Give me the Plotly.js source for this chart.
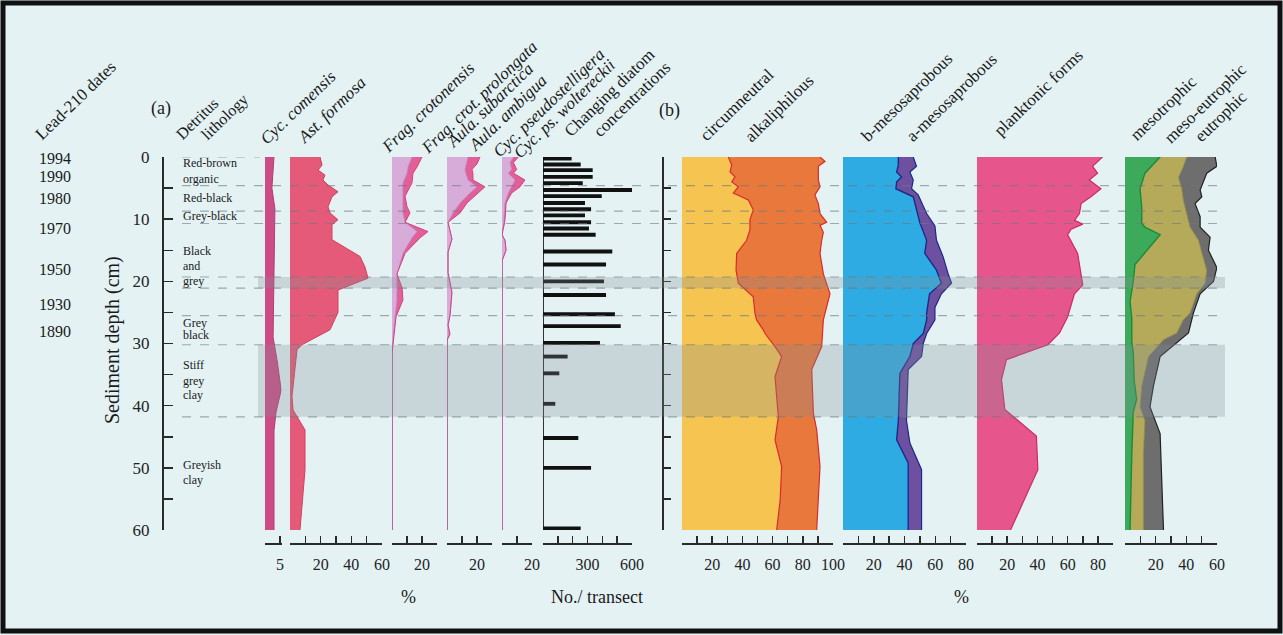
<!DOCTYPE html>
<html><head><meta charset="utf-8">
<script src="https://cdn.plot.ly/plotly-3.0.1.min.js"></script>
<style>html,body{margin:0;padding:0;background:#e4f2f4;}#chart{width:1283px;height:635px;}</style>
</head><body><div id="chart"></div>
<script>
// ---------------- DATA ----------------
const dateLabels = ['1994','1990','1980','1970','1950','1930','1890'];
const dateDepths = [0.3, 3.2, 6.6, 11.5, 18.1, 23.8, 28.1];

const lithoLabels = ['Red-brown<br>organic','Red-black','Grey-black','Black','and','grey','Grey','black','Stiff','grey','clay','Greyish','clay'];
const lithoDepths = [2.2, 6.6, 9.5, 15.1, 17.5, 19.9, 26.7, 28.6, 33.5, 36.0, 38.3, 49.5, 51.9];

const zoneLines = [4.6, 8.7, 10.7, 19.3, 21.1, 25.5, 30.2, 41.8];
const zoneBands = [[19.3, 21.1], [30.2, 41.8]];

const cycComDepth = [0, 5, 8.3, 12, 20, 29, 32.6, 37.5, 41, 44, 50, 60];
const cycComensis = [3, 2.3, 3.3, 3.2, 3.1, 2.7, 4, 5.4, 3.7, 3, 3, 3];

const astDepth = [0, 1.3, 2.1, 2.9, 3.7, 4.5, 5.6, 6.4, 8, 9, 10.1, 10.9, 13.3, 16, 17.7, 19.5, 21.4, 25, 27.8, 30.2, 31, 38.5, 40.7, 43.9, 50.3, 60];
const astFormosa = [19.6, 20.9, 18.3, 22.8, 21.5, 24.8, 31.3, 27.4, 24.8, 26.1, 31.3, 27.4, 27.4, 45.7, 48.9, 50.9, 31.3, 31.3, 26.1, 7.8, 4.6, 1.3, 2, 9.8, 9.8, 6.5];

const fragDepth = [0, 1.6, 2.6, 4.2, 6.3, 8, 9, 10.5, 12, 13, 15.5, 18.8, 21, 23, 25.7, 29.4, 31.6, 60];
const fragCrotonensis = [13.3, 10.7, 10, 7.3, 7.3, 7.3, 7.3, 8.7, 16.7, 13.3, 7.3, 3.3, 3.3, 3.3, 2, 0.7, 0, 0];
const fragProlongata = [6.7, 6, 4, 6, 1.4, 2.7, 4.7, 0, 7.3, 5.4, 1.4, 0, 3.4, 4, 0.7, 0, 0, 0];

const aulaDepth = [0, 1.1, 2, 2.6, 3.7, 4.8, 5.8, 7.4, 9, 10.5, 13.2, 15.3, 18.6, 21.8, 25.5, 27, 28.5, 29.5, 60];
const aulaSubarctica = [14, 12.7, 12, 12.5, 14, 20, 15.3, 8.7, 4, 0.7, 3.3, 0.7, 0.7, 3.3, 2, 0.7, 1.3, 0, 0];
const aulaAmbigua = [8, 7.3, 4.7, 4.8, 3.3, 5.3, 5.4, 4.6, 4.7, 0, 0, 0, 0, 0, 0, 0, 0.7, 0, 0];

const cycPsDepth = [0, 0.9, 2, 2.6, 3.7, 4.8, 5.8, 7.4, 9.5, 10.5, 12.5, 13.4, 15, 16.7, 60];
const cycPseudostelligera = [7.6, 5.3, 6.4, 4.2, 8.7, 6.4, 4.2, 2, 1.5, 1.2, 0, 2, 2.7, 0, 0];
const cycWoltereckii = [3.3, 2.3, 3.4, 3.4, 6.6, 5.6, 2.2, 0.7, 0.7, 0.6, 0, 0, 0, 0, 0];

const concDepth = [0.25, 1.2, 2.1, 3.2, 4.2, 5.3, 6.3, 7.4, 8.4, 9.4, 10.5, 11.5, 12.5, 15.2, 17.3, 20, 22.2, 25.3, 27.2, 29.9, 32.1, 34.8, 39.7, 45.2, 50, 59.75];
const concentration = [193, 254, 335, 335, 268, 638, 396, 283, 324, 283, 324, 310, 355, 467, 425, 411, 425, 485, 524, 384, 166, 110, 83, 238, 324, 254];

const circDepth = [0, 1.3, 2.4, 3.2, 4, 4.8, 5.8, 6.9, 8.5, 10.1, 11.7, 13.4, 15.5, 18.2, 20.3, 22.5, 25.1, 26.2, 27.8, 28.4, 30.5, 32.1, 35.3, 41.8, 45.5, 49.8, 55.2, 60];
const circumneutral = [30.7, 32.9, 31.8, 35.1, 33, 37.3, 34, 43.9, 47.2, 45, 45, 42.8, 36.2, 35.8, 37.3, 47.2, 48.3, 49.4, 53.8, 55, 61.6, 66, 61.6, 63.8, 61.6, 66, 65, 62.7];
const alkDepth = [0, 0.7, 1.5, 3.7, 4.8, 6.1, 7.5, 9.1, 10.5, 11, 12.1, 13.4, 15.5, 18.8, 22, 24.2, 26.2, 30.5, 34.2, 41.2, 43.9, 49.8, 55.2, 60];
const alkaliphilousCum = [91.4, 94.7, 90.3, 90.3, 91.4, 88, 90.3, 91.4, 95.8, 91.4, 93.6, 92.5, 91.4, 93.6, 98, 95.8, 93.6, 92.5, 85.9, 87, 89.2, 91.4, 90.3, 89.2];

const bMesoDepth = [0, 1.3, 2.4, 3.2, 4, 5.1, 6.4, 8.5, 10.6, 13.4, 15.5, 18.2, 20.3, 22, 25.1, 26.2, 28.4, 30, 32.1, 34.8, 42.4, 45.5, 49.2, 60];
const bMesosaprobous = [36, 36, 34.9, 38.1, 34.9, 34.4, 45.7, 47.8, 50, 54.4, 53.2, 60.8, 64, 56.3, 54.4, 54.4, 52.2, 45.7, 43.5, 37, 36, 34.9, 42.4, 42.4];
const aMesoDepth = [0, 1.5, 2.4, 3.7, 5.1, 6.1, 9.1, 11.1, 13.4, 16.1, 18.8, 20.3, 22, 24.2, 26.2, 28.4, 30, 32.1, 34.2, 42.4, 46, 50.3, 60];
const aMesosaprobousCum = [45.7, 47.8, 43.5, 45.7, 44.6, 48.9, 54.4, 59.8, 60.8, 65.2, 68.4, 70.6, 64, 59.8, 59.8, 54.4, 52.2, 51.1, 42.4, 41.3, 43.5, 51.1, 51.1];

const plankDepth = [0, 1.5, 2.6, 3.7, 5.1, 6.4, 7.5, 9.1, 10.2, 10.8, 11.6, 12.5, 15.5, 20.6, 22, 25.7, 28.3, 30.2, 32.6, 35.8, 40.6, 44.9, 50.3, 60];
const planktonic = [83, 76.5, 79.8, 74.3, 82, 75.4, 68.9, 67.8, 64.5, 70, 62.3, 60, 66.6, 70, 64.5, 60, 54.6, 46.9, 19.5, 16.2, 18.4, 39.3, 40.3, 22.2];

const mesoDepth = [0, 2.6, 5.1, 8.1, 10.6, 11.3, 12.5, 17.3, 20, 23.2, 25.9, 29.7, 31.5, 36, 39, 41, 47.8, 60];
const mesotrophic = [22.9, 13, 9.8, 10.9, 10.9, 13, 22.9, 6.5, 5.4, 3.3, 4.4, 4.4, 5.4, 6, 7.6, 5.4, 4.4, 3.3];
const mesoEuDepth = [0, 1.5, 3.3, 5.1, 7, 9.1, 11.3, 13.4, 18.2, 20.3, 22, 25.1, 26.2, 28.3, 29.4, 32.1, 36.9, 40.2, 42.4, 47.8, 60];
const mesoEutrophicCum = [40.3, 38.1, 34.9, 37, 38.1, 40.3, 42.5, 47.9, 53.3, 52.2, 46.8, 42.5, 38, 33.8, 25.1, 15.3, 10.9, 9.8, 13, 12, 12];
const euDepth = [0, 1.5, 2.6, 5.3, 6.4, 7.5, 9.6, 11.3, 12.9, 15, 17.8, 20, 22, 25.1, 28.3, 32.1, 36.9, 40.2, 44.5, 52.2, 60];
const eutrophicCum = [58.8, 59.9, 53.3, 49, 50.1, 45.7, 49, 49, 55.5, 54.4, 59.9, 57.7, 49, 44.6, 41.4, 22.9, 18.5, 16.3, 22.9, 24, 25.1];

// ---------------- LAYOUT HELPERS ----------------
const W = 1283, H = 635;
const SERIF = '"Liberation Serif", "DejaVu Serif", serif';
const px = x => x / W;
const py = y => 1 - y / H;
const cum = (a, b) => a.map((v, i) => v + b[i]);

function area(ax, depth, vals, fill, fillcolor, linecolor, lw, yax) {
  return {type: 'scatter', mode: 'lines', x: vals, y: depth, xaxis: ax, yaxis: yax || 'y',
    fill: fill, fillcolor: fillcolor, line: {color: linecolor, width: lw === undefined ? 1 : lw, shape: 'linear'},
    hoverinfo: 'skip', showlegend: false};
}

const traces = [
  area('x', cycComDepth, cycComensis, 'tozerox', '#cd4b87', '#b83a74', 1),
  area('x2', astDepth, astFormosa, 'tozerox', '#e45a78', '#d2405f', 1),
  area('x3', fragDepth, fragCrotonensis, 'tozerox', '#d8acd8', '#b888c0', 0.8),
  area('x3', fragDepth, cum(fragCrotonensis, fragProlongata), 'tonextx', '#e2609a', '#d84080', 1),
  area('x4', aulaDepth, aulaSubarctica, 'tozerox', '#d8acd8', '#b888c0', 0.8),
  area('x4', aulaDepth, cum(aulaSubarctica, aulaAmbigua), 'tonextx', '#e2609a', '#d84080', 1),
  area('x5', cycPsDepth, cycPseudostelligera, 'tozerox', '#d8acd8', '#b888c0', 0.8),
  area('x5', cycPsDepth, cum(cycPseudostelligera, cycWoltereckii), 'tonextx', '#e2609a', '#d84080', 1),
  {type: 'bar', orientation: 'h', x: concentration, y: concDepth, xaxis: 'x6', yaxis: 'y',
    width: 0.62, marker: {color: '#111', line: {width: 0}}, hoverinfo: 'skip', showlegend: false},
  area('x7', circDepth, circumneutral, 'tozerox', '#f6c450', '#d92b2b', 1.2, 'y2'),
  area('x7', alkDepth, alkaliphilousCum, 'tonextx', '#e8783c', '#d92b2b', 1.2, 'y2'),
  area('x8', bMesoDepth, bMesosaprobous, 'tozerox', '#2eabe2', '#1b2a88', 1.4, 'y2'),
  area('x8', aMesoDepth, aMesosaprobousCum, 'tonextx', '#6e50a0', '#1b2a88', 1.2, 'y2'),
  area('x9', plankDepth, planktonic, 'tozerox', '#e6558c', '#cc2a66', 1.2, 'y2'),
  area('x10', mesoDepth, mesotrophic, 'tozerox', '#3caa5a', '#188a38', 1.4, 'y2'),
  area('x10', mesoEuDepth, mesoEutrophicCum, 'tonextx', '#b4aa5a', '#8e8640', 0.8, 'y2'),
  area('x10', euDepth, eutrophicCum, 'tonextx', '#6e6e6e', '#222', 1.2, 'y2')
];

function ticksFor(max, step, labelled) {
  const v = [], t = [];
  for (let a = 0; a <= max + 1e-9; a += step) { v.push(a); t.push(labelled.includes(a) ? String(a) : ''); }
  return {tickvals: v, ticktext: t};
}
function xax(p0, p1, range, tk, zc) {
  return Object.assign({
    domain: [px(p0), px(p1)], range: range, anchor: 'free', position: py(543), side: 'bottom',
    showline: true, linecolor: '#2a2a2a', linewidth: 1.6, ticks: 'inside', ticklen: 7, tickwidth: 1.5,
    tickcolor: '#2a2a2a', tickmode: 'array', tickfont: {family: SERIF, size: 16, color: '#222'},
    ticklabelstandoff: 6, showgrid: false, zeroline: true, zerolinecolor: zc || '#8f92b4',
    zerolinewidth: 1, fixedrange: true
  }, tk);
}
const depthTicks = ticksFor(60, 5, [0, 10, 20, 30, 40, 50, 60]);

const shapes = [];
zoneBands.forEach(b => shapes.push({type: 'rect', xref: 'paper', yref: 'y', x0: px(258), x1: px(1225),
  y0: b[0], y1: b[1], fillcolor: 'rgba(130,145,150,0.28)', line: {width: 0}, layer: 'above'}));
zoneLines.forEach(d => shapes.push({type: 'line', xref: 'paper', yref: 'y', x0: px(182), x1: px(1225),
  y0: d, y1: d, line: {color: 'rgba(110,120,125,0.6)', width: 1.2, dash: 'dash'}, layer: 'above'}));
shapes.push({type: 'line', xref: 'paper', yref: 'y', x0: px(182), x1: px(260), y0: 0, y1: 0,
  line: {color: 'rgba(110,120,125,0.6)', width: 1.2, dash: 'dash'}, layer: 'above'});
shapes.push({type: 'rect', xref: 'paper', yref: 'paper', x0: px(3), x1: px(1280), y0: py(631), y1: py(3),
  line: {color: '#111', width: 5}, fillcolor: 'rgba(0,0,0,0)', layer: 'above'});

const ann = [];
function lab(text, x, y, size, angle, extra) {
  ann.push(Object.assign({text: text, xref: 'paper', yref: 'paper', x: px(x), y: py(y), showarrow: false,
    textangle: angle || 0, xanchor: 'center', yanchor: 'middle',
    font: {family: SERIF, size: size, color: '#1a1a1a'}}, extra || {}));
}
const HA = -44;
lab('Lead-210 dates', 76, 101, 17, HA);
lab('(a)', 161, 109, 18, 0);
lab('Detritus', 197, 118, 16, HA);
lab('lithology', 225, 117, 16, HA);
lab('<i>Cyc. comensis</i>', 298, 107, 17, HA);
lab('<i>Ast. formosa</i>', 331, 110, 17, HA);
lab('<i>Frag. crotonensis</i>', 428, 107, 17, HA);
lab('<i>Frag. crot. prolongata</i>', 479, 97, 17, HA);
lab('<i>Aula. subarctica</i>', 490, 106, 17, HA);
lab('<i>Aula. ambigua</i>', 507, 113, 17, HA);
lab('<i>Cyc. pseudostelligera</i>', 548, 103, 17, HA);
lab('<i>Cyc. ps. woltereckii</i>', 565, 109, 17, HA);
lab('Changing diatom', 610, 93, 17, HA);
lab('concentrations', 632, 100, 17, HA);
lab('(b)', 669, 111, 18, 0);
lab('circumneutral', 737, 104, 17, HA);
lab('alkaliphilous', 779, 108, 17, HA);
lab('b-mesosaprobous', 907, 98, 17, HA);
lab('a-mesosaprobous', 952, 98, 17, HA);
lab('planktonic forms', 1039, 93, 17, HA);
lab('mesotrophic', 1163, 108, 17, HA);
lab('meso-eutrophic', 1205, 103, 17, HA);
lab('eutrophic', 1221, 117, 17, HA);
lab('Sediment depth (cm)', 112, 340, 20, -90);
lab('%', 408, 597, 18, 0);
lab('No./ transect', 597, 597, 18, 0);
lab('%', 962, 597, 18, 0);

dateLabels.forEach((t, i) => ann.push({text: t, xref: 'paper', yref: 'y', x: px(37), y: dateDepths[i],
  xanchor: 'left', yanchor: 'middle', showarrow: false, font: {family: SERIF, size: 16, color: '#1a1a1a'}}));
lithoLabels.forEach((t, i) => ann.push({text: t, xref: 'paper', yref: 'y', x: px(181), y: lithoDepths[i],
  xanchor: 'left', yanchor: 'middle', align: 'left', showarrow: false,
  font: {family: SERIF, size: 12, color: '#1a1a1a'}}));

const layout = {
  width: W, height: H, margin: {l: 0, r: 0, t: 0, b: 0, autoexpand: false},
  paper_bgcolor: '#e4f2f4', plot_bgcolor: 'rgba(0,0,0,0)', showlegend: false,
  xaxis: xax(265, 281.5, [0, 5.5], {tickvals: [0, 5], ticktext: ['', '5']}),
  xaxis2: xax(290, 382, [0, 60], ticksFor(60, 10, [20, 40, 60])),
  xaxis3: xax(392, 437, [0, 30], ticksFor(30, 10, [20])),
  xaxis4: xax(447, 492, [0, 30], ticksFor(30, 10, [20])),
  xaxis5: xax(502, 532, [0, 20], ticksFor(20, 10, [20])),
  xaxis6: xax(543, 632, [0, 600], ticksFor(600, 100, [300, 600]), '#333'),
  xaxis7: xax(682, 833, [0, 100], ticksFor(100, 10, [20, 40, 60, 80, 100])),
  xaxis8: xax(843, 966, [0, 80], ticksFor(80, 10, [20, 40, 60, 80])),
  xaxis9: xax(977, 1113, [0, 90], ticksFor(90, 10, [20, 40, 60, 80])),
  xaxis10: xax(1125, 1217, [0, 60], ticksFor(60, 10, [20, 40, 60])),
  yaxis: Object.assign({domain: [py(530), py(157)], range: [60, 0], anchor: 'free', position: px(162),
    side: 'left', showline: true, linecolor: '#2a2a2a', linewidth: 1.5, ticks: 'inside', ticklen: 9,
    tickwidth: 1.5, tickcolor: '#2a2a2a', tickmode: 'array', tickfont: {family: SERIF, size: 17, color: '#222'},
    ticklabelstandoff: 9, showgrid: false, zeroline: false, fixedrange: true}, depthTicks),
  yaxis2: Object.assign({overlaying: 'y', range: [60, 0], anchor: 'free', position: px(662), side: 'left',
    showline: true, linecolor: '#2a2a2a', linewidth: 1.5, ticks: 'inside', ticklen: 7, tickwidth: 1.5,
    tickcolor: '#2a2a2a', tickmode: 'array', showticklabels: false, showgrid: false, zeroline: false,
    fixedrange: true}, depthTicks),
  shapes: shapes,
  annotations: ann
};

Plotly.newPlot('chart', traces, layout, {staticPlot: true, displayModeBar: false});
</script></body></html>
